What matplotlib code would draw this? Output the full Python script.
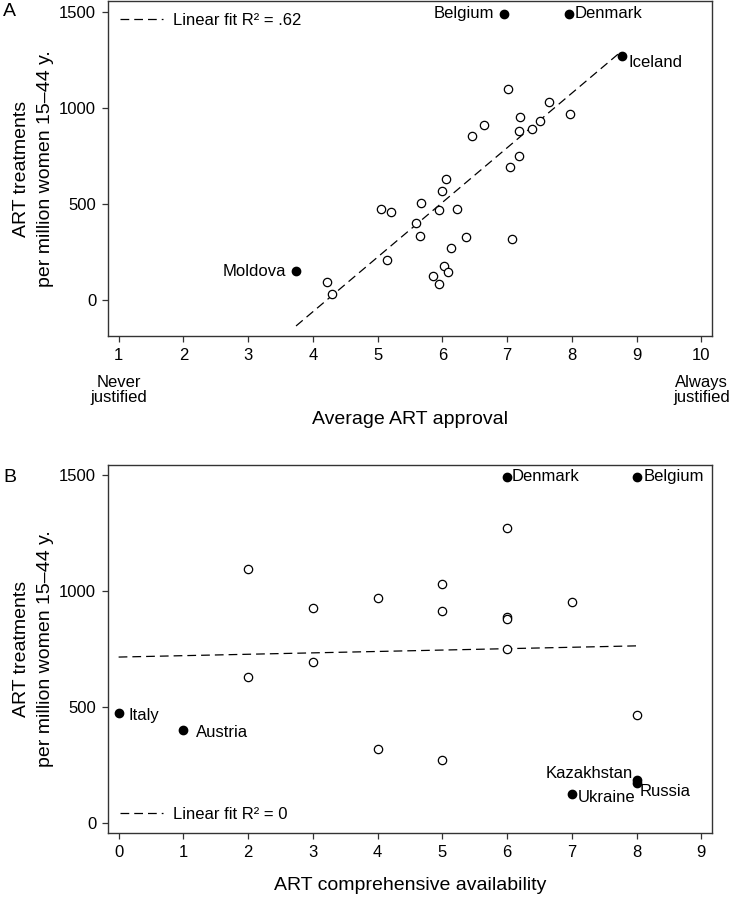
import numpy as np
import matplotlib.pyplot as plt
from matplotlib.transforms import blended_transform_factory

plt.rcParams['font.family'] = ['Liberation Sans', 'DejaVu Sans']

# panel A: average ART approval vs treatments (unlabelled countries)
a_x = [7.02, 7.65, 7.20, 7.97, 6.64, 7.50, 7.38, 7.18, 6.45, 7.19, 7.04, 6.05, 6.00, 5.67, 5.05,
       5.21, 5.95, 6.23, 5.60, 5.65, 6.37, 7.07, 6.13, 5.15, 6.02, 6.08, 5.85, 5.95, 4.22, 4.30]
a_y = [1095, 1027, 952, 969, 910, 929, 888, 879, 854, 750, 691, 630, 566, 501, 472,
       458, 465, 470, 398, 332, 324, 317, 271, 207, 174, 143, 122, 80, 90, 30]
# labelled countries in A
a_names = ['Belgium', 'Denmark', 'Iceland', 'Moldova']
a_nx = [6.95, 7.95, 8.77, 3.74]
a_ny = [1490, 1490, 1270, 148]

# panel B: comprehensive availability vs treatments
b_x = [2, 6, 5, 4, 3, 5, 6, 6, 7, 6, 3, 2, 8, 4, 5]
b_y = [1095, 1273, 1029, 971, 928, 912, 889, 880, 953, 752, 693, 631, 466, 318, 270]
b_names = ['Denmark', 'Belgium', 'Italy', 'Austria', 'Kazakhstan', 'Russia', 'Ukraine']
b_nx = [6, 8, 0, 1, 8, 8, 7]
b_ny = [1493, 1493, 473, 400, 184, 172, 124]

a_r2 = '.62'
b_r2 = '0'

# where each label sits relative to its point (points, ha)
a_place = {'Belgium': (-7, 0, 'right'), 'Denmark': (4, 0, 'left'),
           'Iceland': (5, -5, 'left'), 'Moldova': (-7, 0, 'right')}
b_place = {'Denmark': (3, 0, 'left'), 'Belgium': (5, 0, 'left'), 'Italy': (7, -1.5, 'left'),
           'Austria': (9, -1.5, 'left'), 'Kazakhstan': (-3, 5, 'right'),
           'Russia': (2, -6, 'left'), 'Ukraine': (4, -2, 'left')}

fs = 12
dash = (7, 4)


def panel(ax, x, y, nx, ny, names, place, r2):
    ax.plot(x, y, 'o', ms=6, mfc='white', mec='black', mew=0.9, ls='none', zorder=3)
    ax.plot(nx, ny, 'o', ms=6, mfc='black', mec='black', ls='none', zorder=3)
    for n, px, py in zip(names, nx, ny):
        dx, dy, ha = place[n]
        ax.annotate(n, (px, py), xytext=(dx, dy), textcoords='offset points',
                    ha=ha, va='center', fontsize=fs)
    allx = np.array(list(x) + list(nx), dtype=float)
    ally = np.array(list(y) + list(ny), dtype=float)
    k, b = np.polyfit(allx, ally, 1)
    xx = np.array([allx.min(), allx.max()])
    ax.plot(xx, k * xx + b, color='black', lw=0.9, dashes=dash,
            label='Linear fit R\u00b2 = ' + r2)
    for s in ax.spines.values():
        s.set_color('#333333')
        s.set_linewidth(1)
    ax.tick_params(direction='out', length=4.5, width=0.9, pad=4, labelsize=fs,
                   color='#333333')
    ax.set_yticks([0, 500, 1000, 1500])
    ax.set_ylabel('ART treatments\nper million women 15\u201344 y.', fontsize=14,
                  va='center', linespacing=1.5)
    ax.yaxis.set_label_coords(-0.123, 0.5)


fig = plt.figure(figsize=(7.3, 8.97), dpi=100)

axA = fig.add_axes([108 / 730, (897 - 336) / 897, 604 / 730, 335 / 897])
panel(axA, a_x, a_y, a_nx, a_ny, a_names, a_place, a_r2)
axA.set_xlim(0.836, 10.164)
axA.set_ylim(-190, 1556)
axA.set_xticks(range(1, 11))
axA.legend(loc='upper left', bbox_to_anchor=(0.02, 0.965), frameon=False, fontsize=fs,
           borderaxespad=0, borderpad=0, handlelength=2.6, handletextpad=0.6)
tr = blended_transform_factory(axA.transData, axA.transAxes)
axA.text(1, -0.115, 'Never\njustified', transform=tr, ha='center', va='top',
         fontsize=fs, linespacing=1.0)
axA.text(10, -0.115, 'Always\njustified', transform=tr, ha='center', va='top',
         fontsize=fs, linespacing=1.0)
axA.set_xlabel('Average ART approval', fontsize=14)
axA.xaxis.set_label_coords(0.5, -0.225)

axB = fig.add_axes([108 / 730, (897 - 833) / 897, 604 / 730, 368 / 897])
panel(axB, b_x, b_y, b_nx, b_ny, b_names, b_place, b_r2)
axB.set_xlim(-0.164, 9.164)
axB.set_ylim(-43, 1543)
axB.set_xticks(range(0, 10))
axB.legend(loc='lower left', bbox_to_anchor=(0.02, 0.03), frameon=False, fontsize=fs,
           borderaxespad=0, borderpad=0, handlelength=2.6, handletextpad=0.6)
axB.set_xlabel('ART comprehensive availability', fontsize=14)
axB.xaxis.set_label_coords(0.5, -0.12)

fig.text(3 / 730, 1 - 12 / 897, 'A', fontsize=14, va='center', ha='left')
fig.text(3 / 730, 1 - 477 / 897, 'B', fontsize=14, va='center', ha='left')

fig.savefig('out.png', dpi=100)
